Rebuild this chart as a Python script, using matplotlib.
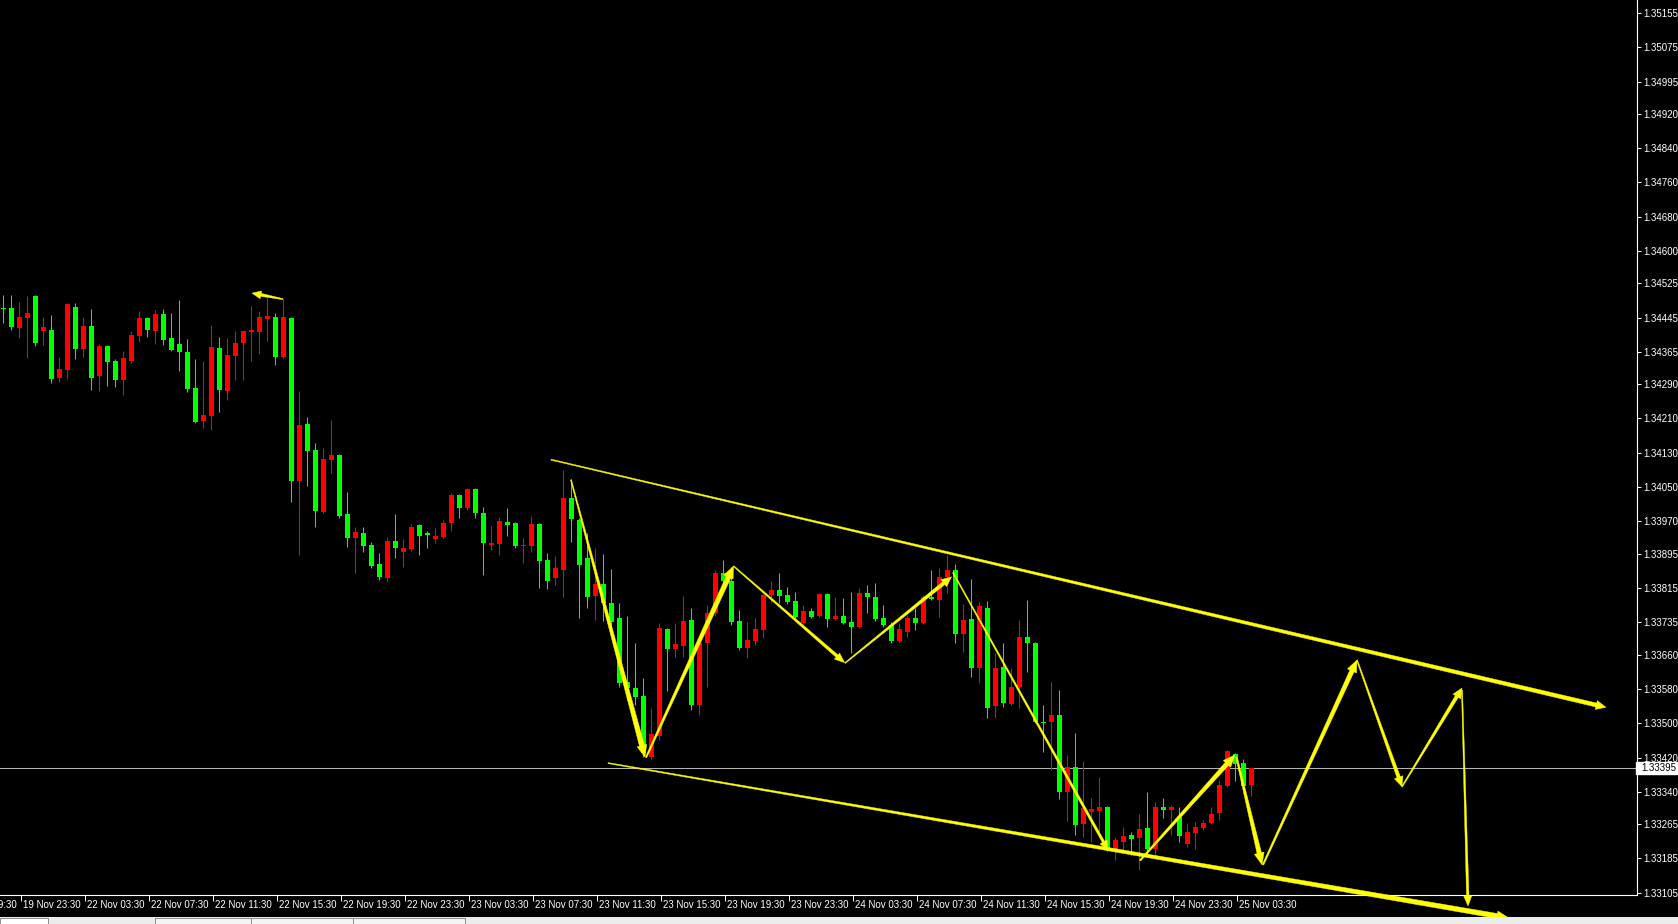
import numpy as np
import matplotlib
matplotlib.use("Agg")
import matplotlib.pyplot as plt
import matplotlib.transforms as mtransforms
from matplotlib.patches import Polygon, Rectangle

plt.rcParams['font.family'] = ['Liberation Sans', 'DejaVu Sans']

# M30 candles, first bar = 19 Nov 22:30
opens = [1.34467, 1.34467, 1.34421, 1.34444, 1.34495, 1.34414, 1.34416, 1.34304, 1.34323, 1.34470,
         1.34372, 1.34425, 1.34309, 1.34379, 1.34344, 1.34300, 1.34344, 1.34402, 1.34444, 1.34414,
         1.34453, 1.34397, 1.34384, 1.34365, 1.34281, 1.34204, 1.34216, 1.34374, 1.34274, 1.34356,
         1.34386, 1.34411, 1.34411, 1.34442, 1.34446, 1.34353, 1.34444, 1.34064, 1.34197, 1.34137,
         1.33992, 1.34113, 1.34125, 1.33987, 1.33932, 1.33943, 1.33916, 1.33871, 1.33838, 1.33925,
         1.33899, 1.33906, 1.33962, 1.33943, 1.33929, 1.33934, 1.33966, 1.34032, 1.34001, 1.34046,
         1.33990, 1.33916, 1.33918, 1.33969, 1.33966, 1.33913, 1.33913, 1.33964, 1.33880, 1.33838,
         1.33857, 1.34025, 1.33974, 1.33885, 1.33796, 1.33824, 1.33780, 1.33745, 1.33596, 1.33582,
         1.33563, 1.33421, 1.33470, 1.33719, 1.33673, 1.33680, 1.33740, 1.33543, 1.33687, 1.33757,
         1.33851, 1.33831, 1.33738, 1.33675, 1.33692, 1.33717, 1.33799, 1.33810, 1.33799, 1.33785,
         1.33733, 1.33762, 1.33750, 1.33801, 1.33743, 1.33750, 1.33736, 1.33724, 1.33803, 1.33794,
         1.33745, 1.33729, 1.33692, 1.33713, 1.33745, 1.33733, 1.33794, 1.33787, 1.33841, 1.33857,
         1.33708, 1.33743, 1.33629, 1.33768, 1.33541, 1.33630, 1.33545, 1.33585, 1.33701, 1.33687,
         1.33503, 1.33503, 1.33519, 1.33340, 1.33398, 1.33265, 1.33293, 1.33295, 1.33305, 1.33205,
         1.33223, 1.33239, 1.33233, 1.33256, 1.33207, 1.33305, 1.33297, 1.33281, 1.33218, 1.33244,
         1.33256, 1.33267, 1.33291, 1.33354, 1.33428, 1.33407, 1.33356]
highs = [1.34498, 1.34498, 1.34481, 1.34495, 1.34498, 1.34446, 1.34451, 1.34353, 1.34479, 1.34479,
         1.34446, 1.34465, 1.34384, 1.34381, 1.34349, 1.34367, 1.34414, 1.34460, 1.34446, 1.34463,
         1.34465, 1.34456, 1.34486, 1.34395, 1.34349, 1.34344, 1.34428, 1.34400, 1.34397, 1.34414,
         1.34416, 1.34472, 1.34460, 1.34491, 1.34456, 1.34488, 1.34446, 1.34274, 1.34213, 1.34153,
         1.34141, 1.34206, 1.34127, 1.34039, 1.33957, 1.33957, 1.33922, 1.33897, 1.33934, 1.33987,
         1.33929, 1.33964, 1.33964, 1.33948, 1.33955, 1.33974, 1.34036, 1.34034, 1.34048, 1.34048,
         1.34004, 1.33959, 1.33980, 1.34001, 1.33969, 1.33932, 1.33983, 1.33966, 1.33897, 1.33890,
         1.34090, 1.34069, 1.33978, 1.33943, 1.33908, 1.33894, 1.33859, 1.33780, 1.33750, 1.33687,
         1.33605, 1.33536, 1.33733, 1.33722, 1.33733, 1.33796, 1.33768, 1.33689, 1.33775, 1.33857,
         1.33880, 1.33864, 1.33764, 1.33736, 1.33745, 1.33801, 1.33831, 1.33851, 1.33817, 1.33806,
         1.33775, 1.33768, 1.33803, 1.33803, 1.33794, 1.33792, 1.33806, 1.33815, 1.33822, 1.33827,
         1.33775, 1.33736, 1.33733, 1.33752, 1.33768, 1.33799, 1.33857, 1.33862, 1.33892, 1.33871,
         1.33777, 1.33836, 1.33782, 1.33785, 1.33664, 1.33687, 1.33629, 1.33740, 1.33787, 1.33689,
         1.33543, 1.33596, 1.33577, 1.33426, 1.33477, 1.33412, 1.33326, 1.33375, 1.33307, 1.33235,
         1.33258, 1.33246, 1.33288, 1.33340, 1.33316, 1.33326, 1.33309, 1.33305, 1.33267, 1.33270,
         1.33274, 1.33305, 1.33368, 1.33438, 1.33431, 1.33417, 1.33398]
lows = [1.34432, 1.34416, 1.34397, 1.34351, 1.34379, 1.34381, 1.34293, 1.34295, 1.34302, 1.34349,
        1.34353, 1.34276, 1.34274, 1.34286, 1.34283, 1.34265, 1.34339, 1.34388, 1.34400, 1.34384,
        1.34381, 1.34367, 1.34321, 1.34272, 1.34199, 1.34188, 1.34183, 1.34225, 1.34253, 1.34300,
        1.34300, 1.34344, 1.34360, 1.34391, 1.34335, 1.34351, 1.34015, 1.33892, 1.34053, 1.33957,
        1.33990, 1.34083, 1.33978, 1.33911, 1.33851, 1.33899, 1.33862, 1.33834, 1.33831, 1.33885,
        1.33864, 1.33901, 1.33892, 1.33908, 1.33920, 1.33932, 1.33948, 1.33978, 1.33997, 1.33978,
        1.33845, 1.33904, 1.33892, 1.33936, 1.33908, 1.33873, 1.33899, 1.33815, 1.33813, 1.33822,
        1.33794, 1.33922, 1.33745, 1.33768, 1.33740, 1.33738, 1.33724, 1.33585, 1.33554, 1.33543,
        1.33421, 1.33417, 1.33461, 1.33574, 1.33654, 1.33654, 1.33531, 1.33518, 1.33585, 1.33750,
        1.33829, 1.33729, 1.33670, 1.33652, 1.33682, 1.33699, 1.33780, 1.33780, 1.33778, 1.33740,
        1.33731, 1.33745, 1.33748, 1.33724, 1.33740, 1.33731, 1.33664, 1.33722, 1.33757, 1.33738,
        1.33724, 1.33687, 1.33689, 1.33701, 1.33717, 1.33731, 1.33787, 1.33748, 1.33803, 1.33687,
        1.33666, 1.33608, 1.33594, 1.33512, 1.33512, 1.33538, 1.33543, 1.33536, 1.33619, 1.33500,
        1.33433, 1.33391, 1.33323, 1.33272, 1.33239, 1.33235, 1.33223, 1.33246, 1.33202, 1.33181,
        1.33205, 1.33193, 1.33158, 1.33188, 1.33188, 1.33279, 1.33239, 1.33223, 1.33212, 1.33207,
        1.33252, 1.33265, 1.33274, 1.33352, 1.33365, 1.33352, 1.33330]
closes = [1.34465, 1.34423, 1.34446, 1.34456, 1.34386, 1.34423, 1.34302, 1.34325, 1.34477, 1.34372,
          1.34425, 1.34304, 1.34379, 1.34342, 1.34300, 1.34351, 1.34404, 1.34444, 1.34416, 1.34453,
          1.34393, 1.34370, 1.34365, 1.34279, 1.34202, 1.34218, 1.34377, 1.34276, 1.34358, 1.34386,
          1.34414, 1.34416, 1.34446, 1.34449, 1.34353, 1.34446, 1.34064, 1.34195, 1.34134, 1.33994,
          1.34116, 1.34125, 1.33983, 1.33932, 1.33946, 1.33913, 1.33866, 1.33841, 1.33925, 1.33908,
          1.33908, 1.33957, 1.33936, 1.33938, 1.33936, 1.33966, 1.34032, 1.34001, 1.34046, 1.33990,
          1.33920, 1.33920, 1.33971, 1.33962, 1.33913, 1.33916, 1.33964, 1.33878, 1.33831, 1.33862,
          1.34025, 1.33976, 1.33869, 1.33794, 1.33824, 1.33780, 1.33736, 1.33594, 1.33582, 1.33561,
          1.33431, 1.33475, 1.33722, 1.33673, 1.33685, 1.33738, 1.33543, 1.33687, 1.33757, 1.33851,
          1.33831, 1.33736, 1.33675, 1.33694, 1.33719, 1.33799, 1.33810, 1.33796, 1.33782, 1.33748,
          1.33762, 1.33748, 1.33801, 1.33743, 1.33750, 1.33733, 1.33724, 1.33803, 1.33794, 1.33743,
          1.33729, 1.33692, 1.33719, 1.33745, 1.33733, 1.33794, 1.33789, 1.33841, 1.33857, 1.33708,
          1.33740, 1.33629, 1.33773, 1.33536, 1.33629, 1.33547, 1.33585, 1.33701, 1.33687, 1.33503,
          1.33500, 1.33519, 1.33340, 1.33398, 1.33263, 1.33302, 1.33300, 1.33305, 1.33205, 1.33228,
          1.33237, 1.33230, 1.33254, 1.33207, 1.33305, 1.33297, 1.33305, 1.33237, 1.33246, 1.33258,
          1.33267, 1.33288, 1.33356, 1.33435, 1.33405, 1.33354, 1.33395]

current_price = 1.33395

price_labels = ['1.35155', '1.35075', '1.34995', '1.34920', '1.34840', '1.34760', '1.34680',
                '1.34600', '1.34525', '1.34445', '1.34365', '1.34290', '1.34210', '1.34130',
                '1.34050', '1.33970', '1.33895', '1.33815', '1.33735', '1.33660', '1.33580',
                '1.33500', '1.33420', '1.33340', '1.33265', '1.33185', '1.33105']

time_labels = ['19 Nov 19:30', '19 Nov 23:30', '22 Nov 03:30', '22 Nov 07:30', '22 Nov 11:30',
               '22 Nov 15:30', '22 Nov 19:30', '22 Nov 23:30', '23 Nov 03:30', '23 Nov 07:30',
               '23 Nov 11:30', '23 Nov 15:30', '23 Nov 19:30', '23 Nov 23:30', '24 Nov 03:30',
               '24 Nov 07:30', '24 Nov 11:30', '24 Nov 15:30', '24 Nov 19:30', '24 Nov 23:30',
               '25 Nov 03:30']
first_label_bar = -6   # '19 Nov 19:30' sits left of the first visible bar

# hand drawn objects: (bar, price) -> (bar, price)
arrow_top = [(34.96, 1.34488), (31.09, 1.34502)]
channel_upper = [(68.46, 1.34114), (200.34, 1.33537)]
channel_lower = [(75.59, 1.33407), (188.2, 1.33046)]
zigzag = [
    [(70.96, 1.34067), (80.21, 1.33421)],
    [(80.34, 1.33420), (91.28, 1.33866)],
    [(91.28, 1.33866), (105.16, 1.33641)],
    [(105.21, 1.33640), (118.53, 1.33841)],
    [(118.71, 1.33851), (138.13, 1.33203)],
    [(142.09, 1.33180), (153.96, 1.33426)],
    [(154.15, 1.33421), (157.34, 1.33170)],
    [(157.46, 1.33170), (169.21, 1.33647)],
    [(169.21, 1.33647), (174.84, 1.33352)],
    [(174.84, 1.33352), (182.34, 1.33582)],
    [(182.34, 1.33577), (183.09, 1.33074)],
]
# pixel widths: tail start, tail end, head width, head length
zigzag_style = [(1, 5, 10, 12), (1.5, 5, 10, 12), (1, 3, 8, 10), (1, 3.5, 9, 10),
                (1, 2.5, 8, 10), (1.5, 4.5, 10, 12), (1.5, 4.5, 10, 12), (1.5, 4.5, 10, 12),
                (1, 3.5, 9, 10), (1, 3.5, 9, 10), (1, 2.5, 8, 10)]

W, H = 1678, 924
plot_right, plot_bottom = 1637, 895
bar_px = 8.0
bar0_px = 3.3
yellow = '#FFFF00'
fsize = 7

fig = plt.figure(figsize=(W / 100, H / 100), dpi=100, facecolor='black')
ax = fig.add_axes([0, (H - plot_bottom) / H, plot_right / W, plot_bottom / H])
ax.set_facecolor('black')
ax.set_xlim(-bar0_px / bar_px, (plot_right - bar0_px) / bar_px)
ax.set_ylim(1.3309965, 1.35185)

# candles: red = close above open, green = close below open
x = np.arange(len(opens))
o = np.array(opens)
c = np.array(closes)
colors = np.where(c > o, '#FF0000', '#00FF00')
ax.vlines(x, lows, highs, colors=colors, lw=0.75, zorder=2)
body_lo = np.minimum(o, c)
body_h = np.maximum(np.abs(c - o), 0.00002)
ax.bar(x, body_h, bottom=body_lo, width=0.625, color=colors, linewidth=0, zorder=3)

# current price line
ax.axhline(current_price, color='#B4B4B4', lw=0.75, zorder=1)

# axes frame
for s in ['left', 'top']:
    ax.spines[s].set_visible(False)
for s in ['right', 'bottom']:
    ax.spines[s].set_color('white')
    ax.spines[s].set_linewidth(0.8)

ax.yaxis.tick_right()
ax.set_yticks([float(p) for p in price_labels])
ax.set_yticklabels(price_labels)
ax.tick_params(axis='y', direction='out', length=3, width=0.7, colors='white',
               pad=1.5, labelsize=fsize)

label_bars = first_label_bar + 8 * np.arange(len(time_labels))
ax.set_xticks(label_bars[1:] + 0.25)
ax.set_xticklabels([])
ax.tick_params(axis='x', direction='out', length=4, width=0.7, colors='white')

xt = mtransforms.blended_transform_factory(ax.transData, ax.transAxes)
for b, lab in zip(label_bars, time_labels):
    ax.text(b + 0.45, -10 / plot_bottom, lab, transform=xt, color='white', fontsize=fsize,
            ha='left', va='center', clip_on=False)

# current price box on the scale
yt = mtransforms.blended_transform_factory(ax.transAxes, ax.transData)
ax.add_patch(Rectangle((1636 / plot_right, current_price - 0.00014), 43 / plot_right, 0.00028,
                       transform=yt, fc='white', ec='white', clip_on=False, zorder=6))
ax.text(1641 / plot_right, current_price, f'{current_price:.5f}', transform=yt, color='black',
        fontsize=fsize, ha='left', va='center', clip_on=False, zorder=7)


def taper_arrow(p_start, p_end, w0, w1, hw, hl):
    # arrow that widens from the tail to the head, built in pixels
    a = ax.transData.transform(p_start)
    b = ax.transData.transform(p_end)
    d = b - a
    u = d / np.hypot(d[0], d[1])
    n = np.array([-u[1], u[0]])
    base = b - u * hl
    pts = [a + n * w0 / 2, base + n * w1 / 2, base + n * hw / 2, b,
           base - n * hw / 2, base - n * w1 / 2, a - n * w0 / 2]
    pts = ax.transData.inverted().transform(pts)
    ax.add_patch(Polygon(pts, closed=True, fc=yellow, ec=yellow, lw=0.3,
                         clip_on=False, zorder=5))


taper_arrow(arrow_top[0], arrow_top[1], 1, 3, 8, 9)
taper_arrow(channel_upper[0], channel_upper[1], 1, 4, 9, 10)
taper_arrow(channel_lower[0], channel_lower[1], 1, 5, 10, 12)
for seg, st in zip(zigzag, zigzag_style):
    taper_arrow(seg[0], seg[1], *st)

# terminal tab strip at the very bottom
fig.patches.append(Rectangle((0, 0), 1, 7 / H, transform=fig.transFigure,
                             fc='#ECECEC', ec='none', zorder=0))
for x0, x1, fc in [(0, 48, 'white'), (155, 251, '#F4F4F4'), (251, 353, '#F4F4F4'),
                   (353, 465, '#F4F4F4')]:
    fig.patches.append(Rectangle((x0 / W, 0), (x1 - x0) / W, 6 / H, transform=fig.transFigure,
                                 fc=fc, ec='#8C8C8C', lw=0.7, zorder=1))

fig.savefig('out.png', dpi=100, facecolor='black')
